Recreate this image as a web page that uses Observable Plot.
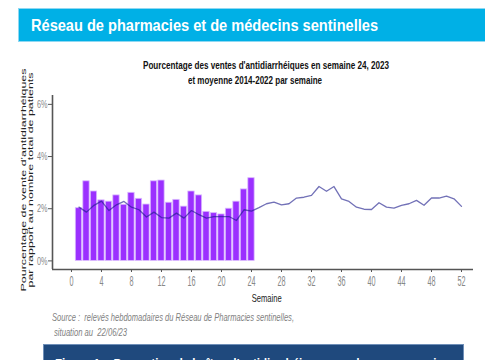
<!DOCTYPE html>
<html><head><meta charset="utf-8">
<script src="https://cdn.jsdelivr.net/npm/d3@7"></script>
<script src="https://cdn.jsdelivr.net/npm/@observablehq/plot@0.6"></script>
<style>
html,body{margin:0;padding:0;background:#fff;}
body{width:485px;height:360px;overflow:hidden;position:relative;font-family:"Liberation Sans",Arial,sans-serif;}
.t{position:absolute;white-space:nowrap;line-height:1;transform-origin:0 0;}
#banner{position:absolute;left:18px;top:8px;width:470px;height:34px;background:#00b0e6;border:1px solid #8fd8f2;box-sizing:border-box;}
#figbox{position:absolute;left:43px;top:344px;width:421px;height:30px;background:#1f497d;border:1px solid #6f8fb8;box-sizing:border-box;}
#chart{position:absolute;left:0;top:50px;}
</style></head><body>
<div id="banner"></div>
<div class="t" id="bannerText" style="left:31px;top:18px;font-size:16px;font-weight:bold;color:#fff;">Réseau de pharmacies et de médecins sentinelles</div>
<div class="t" id="title1" style="left:143px;top:59.5px;font-size:10.5px;font-weight:bold;color:#111;">Pourcentage des ventes d'antidiarrhéiques en semaine 24, 2023</div>
<div class="t" id="title2" style="left:188px;top:74.5px;font-size:10.5px;font-weight:bold;color:#111;">et moyenne 2014-2022 par semaine</div>
<div id="chart"></div>
<div class="t" id="src1" style="left:52px;top:312px;font-size:11.5px;font-style:italic;color:#7f7f7f;">Source :&nbsp; relevés hebdomadaires du Réseau de Pharmacies sentinelles,</div>
<div class="t" id="src2" style="left:54px;top:327px;font-size:11.5px;font-style:italic;color:#7f7f7f;">situation au&nbsp; 22/06/23</div>
<div id="figbox"></div>
<div class="t" id="figText" style="left:55px;top:356px;font-size:15px;font-weight:bold;color:#fff;">Figure 1 :&nbsp; Proportion de boîtes d'antidiarrhéiques vendues par semaine</div>
<script>
// Data
const weeks = [1,2,3,4,5,6,7,8,9,10,11,12,13,14,15,16,17,18,19,20,21,22,23,24,25,26,
  27,28,29,30,31,32,33,34,35,36,37,38,39,40,41,42,43,44,45,46,47,48,49,50,51,52];
const ventes2023 = [2.02,3.05,2.66,2.32,2.27,2.51,2.15,2.61,2.38,2.16,3.05,3.08,
  2.23,2.34,2.08,2.66,2.51,1.88,1.83,1.78,2.00,2.27,2.74,3.17];
const moyenne20142022 = [2.06,1.87,2.13,2.29,1.93,2.15,2.28,2.06,1.96,1.68,1.87,1.66,
  1.64,1.83,1.64,1.93,1.77,1.64,1.70,1.70,1.70,1.55,1.96,1.91,2.04,2.19,
  2.25,2.15,2.19,2.41,2.44,2.51,2.85,2.67,2.85,2.38,2.28,2.06,1.98,1.97,2.23,2.06,
  2.02,2.13,2.19,2.32,2.13,2.41,2.41,2.48,2.38,2.09];
const xTicks = [0,4,8,12,16,20,24,28,32,36,40,44,48,52];
const yTicks = [0,2,4,6];
const yLabel1 = "Pourcentage de vente d'antidiarrhéiques";
const yLabel2 = "par rapport au nombre total de patients";
const xLabel = "Semaine";

const bars = ventes2023.map((v,i)=>({week: weeks[i], value: v}));
const mean = moyenne20142022.map((v,i)=>({week: weeks[i], value: v}));
const xDom = [-2.53, 53.6], yDom = [-0.33, 6.34];

const plot = Plot.plot({
  width: 485, height: 260,
  marginLeft: 52, marginRight: 12, marginTop: 45, marginBottom: 41,
  x: {domain: xDom}, y: {domain: yDom},
  style: {background: "transparent", overflow: "visible", fontFamily: "Liberation Sans, Arial, sans-serif"},
  marks: [
    Plot.rect(bars, {x1: d => d.week - 0.42, x2: d => d.week + 0.42, y1: d => 0, y2: "value",
      fill: "#9b30ff", stroke: "#d9b8ff", strokeWidth: 0.8}),
    Plot.line(mean, {x: "week", y: "value", stroke: "#1c1a8a", strokeOpacity: 0.62, strokeWidth: 1.3}),
    Plot.ruleX([xDom[0]], {stroke: "#555", strokeWidth: 1.6}),
    Plot.ruleY([yDom[0]], {stroke: "#555", strokeWidth: 1.6}),
    Plot.axisY({ticks: yTicks, tickSize: 4, tickPadding: 1, tickFormat: d => d + "%",
      fontSize: 11.5, fill: "#888", stroke: "#555", label: null}),
    Plot.axisX({ticks: xTicks, tickSize: 3, tickPadding: 4, fontSize: 14,
      fill: "#888", stroke: "#555", label: null})
  ]
});
document.getElementById("chart").appendChild(plot);

const svg = d3.select(plot);
function squeeze(sel, f) {
  svg.selectAll(sel).each(function() {
    const l = this.getComputedTextLength();
    this.setAttribute("textLength", l * f);
    this.setAttribute("lengthAdjust", "spacingAndGlyphs");
  });
}
squeeze('g[aria-label="x-axis tick label"] text', 0.52);
squeeze('g[aria-label="y-axis tick label"] text', 0.63);

const lab = svg.append("g").attr("font-size", 11).attr("fill", "#222").attr("text-anchor", "middle");
[[yLabel1, 25.5, 223], [yLabel2, 33, 215]].forEach(([t, x, len]) => {
  lab.append("text")
    .attr("transform", `translate(${x},130) rotate(-90) scale(1,0.72)`)
    .attr("textLength", len).attr("lengthAdjust", "spacingAndGlyphs").text(t);
});
svg.append("text").attr("x", 266.7).attr("y", 251.7).attr("font-size", 11.5)
  .attr("fill", "#222").attr("text-anchor", "middle")
  .attr("textLength", 30).attr("lengthAdjust", "spacingAndGlyphs").text(xLabel);

function fit(id, w) {
  const e = document.getElementById(id);
  const r = e.getBoundingClientRect().width;
  e.style.transform = `scaleX(${w / r})`;
}
fit("bannerText", 347);
fit("title1", 246);
fit("title2", 134);
fit("src1", 242);
fit("src2", 73);
fit("figText", 395);
</script>
</body></html>
